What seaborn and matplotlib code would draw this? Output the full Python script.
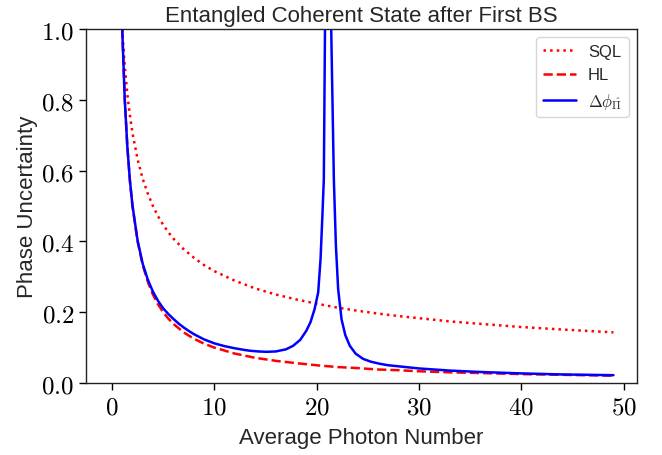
import matplotlib
matplotlib.use("Agg")
import matplotlib.pyplot as plt
import seaborn as sns

# ---- data ----
n_ref = [1, 1.25, 1.5, 1.75, 2, 2.5, 3, 3.5, 4, 4.5, 5, 5.5, 6, 7, 8, 9, 10, 12, 14,
         16, 18, 20, 22, 24, 26, 28, 30, 33, 36, 40, 44, 49]
sql = [1.0, 0.894, 0.816, 0.756, 0.707, 0.632, 0.577, 0.535, 0.5, 0.471, 0.447,
       0.426, 0.408, 0.378, 0.354, 0.333, 0.316, 0.289, 0.267, 0.25, 0.236, 0.224,
       0.213, 0.204, 0.196, 0.189, 0.183, 0.174, 0.167, 0.158, 0.151, 0.143]
hl = [1.0, 0.8, 0.667, 0.571, 0.5, 0.4, 0.333, 0.286, 0.25, 0.222, 0.2, 0.182,
      0.167, 0.143, 0.125, 0.111, 0.1, 0.083, 0.071, 0.0625, 0.056, 0.05, 0.045,
      0.042, 0.038, 0.036, 0.033, 0.030, 0.028, 0.025, 0.023, 0.0204]

n_ecs = [1, 1.25, 1.5, 1.75, 2, 2.5, 3, 3.5, 4, 4.5, 5, 5.5, 6, 6.5, 7, 7.5, 8, 9,
         10, 11, 12, 13, 13.5, 14.3, 15.1, 16, 17, 17.7, 18.4, 19.0, 19.4, 19.8,
         20.15, 20.38, 20.57, 20.70, 20.88, 21.33, 21.68, 21.88, 22.1, 22.43, 22.8,
         23.24, 23.8, 24.54, 25.3, 26.2, 27, 28, 30, 33, 36, 40, 44, 49]
ecs = [1.0, 0.80, 0.668, 0.573, 0.502, 0.403, 0.337, 0.292, 0.258, 0.232, 0.211,
       0.195, 0.181, 0.168, 0.157, 0.147, 0.138, 0.123, 0.112, 0.104, 0.098, 0.093,
       0.091, 0.089, 0.088, 0.089, 0.095, 0.105, 0.122, 0.148, 0.172, 0.209, 0.256,
       0.35, 0.48, 0.576, 1.25, 1.15, 0.576, 0.388, 0.265, 0.18, 0.135, 0.105,
       0.083, 0.068, 0.060, 0.054, 0.050, 0.047, 0.041, 0.035, 0.031, 0.027, 0.024,
       0.022]

labels = ["SQL", "HL", r"$\Delta\phi_{\hat{\Pi}}$"]
title = "Entangled Coherent State after First BS"
xlabel = "Average Photon Number"
ylabel = "Phase Uncertainty"
xticks = [0, 10, 20, 30, 40, 50]
yticks = [0.0, 0.2, 0.4, 0.6, 0.8, 1.0]

# ---- style ----
sns.set_theme(style="ticks")
plt.rcParams["font.family"] = ["Liberation Sans", "DejaVu Sans"]
plt.rcParams["mathtext.fontset"] = "cm"
plt.rcParams["axes.edgecolor"] = "black"
plt.rcParams["xtick.color"] = "black"
plt.rcParams["ytick.color"] = "black"

fig = plt.figure(figsize=(6.62, 4.56), dpi=100)
ax = fig.add_axes([0.1299, 0.158, 0.8323, 0.776])

sns.lineplot(x=n_ref, y=sql, ax=ax, color="red", linestyle=":", linewidth=1.8,
             label=labels[0], estimator=None)
sns.lineplot(x=n_ref, y=hl, ax=ax, color="red", linestyle="--", linewidth=1.8,
             label=labels[1], estimator=None)
sns.lineplot(x=n_ecs, y=ecs, ax=ax, color="blue", linestyle="-", linewidth=1.8,
             label=labels[2], estimator=None)

ax.set_xlim(-2.54, 51.3)
ax.set_ylim(0.0, 1.0)
ax.set_xticks(xticks)
ax.set_yticks(yticks)
ax.set_xticklabels([f"${t}$" for t in xticks], fontsize=18)
ax.set_yticklabels([f"${t:.1f}$" for t in yticks], fontsize=18)
ax.tick_params(direction="out", length=5, width=1)
for s in ax.spines.values():
    s.set_linewidth(1.0)
    s.set_color("#222222")

ax.set_title(title, fontsize=16, pad=6)
ax.set_xlabel(xlabel, fontsize=16, labelpad=6)
ax.set_ylabel(ylabel, fontsize=16, labelpad=2)

leg = ax.legend(loc="upper right", fontsize=12, frameon=True, fancybox=True,
                framealpha=0.8, edgecolor="#cccccc", borderpad=0.4,
                handlelength=2.0, handletextpad=0.7)

fig.savefig("out.png", dpi=100)
